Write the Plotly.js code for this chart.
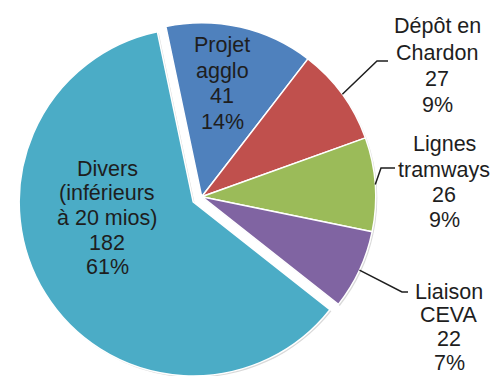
<!DOCTYPE html>
<html>
<head>
<meta charset="utf-8">
<script src="https://cdn.plot.ly/plotly-3.0.1.min.js"></script>
<style>
  html, body { margin: 0; padding: 0; background: #ffffff; overflow: hidden; }
  #wrap { width: 496px; height: 376px; overflow: hidden; position: relative; }
  #chart { width: 496px; height: 384px; }
</style>
</head>
<body>
<div id="wrap"><div id="chart"></div></div>
<script>
// ---- data ----
const categoryLines = [
  ['Projet', 'agglo'],
  ['Dépôt en', 'Chardon'],
  ['Lignes', 'tramways'],
  ['Liaison', 'CEVA'],
  ['Divers', '(inférieurs', 'à 20 mios)']
];
const categories = categoryLines.map(l => l.join(' '));
const values = [41, 27, 26, 22, 182];
const colors = ['#4F81BD', '#C0504D', '#9BBB59', '#8064A2', '#4BACC6'];
const pulls = [0, 0, 0, 0, 0.0575];

// ---- layout constants (pixels) ----
const W = 496, H = 384;
const CX = 201.7, CY = 196.7, R = 174;
const ROT = -11.9;
const maxPull = Math.max(...pulls);
const half = R * (1 + maxPull);
const px = x => x / W;
const py = y => 1 - y / H;

function dom(dx, dy) {
  return {
    x: [(CX + dx - half) / W, (CX + dx + half) / W],
    y: [1 - (CY + dy + half) / H, 1 - (CY + dy - half) / H]
  };
}

// label placement: [center x, first line y, line spacing]
const labelPos = [
  [222, 45, 25.7],
  [437, 26.5, 26],
  [444, 144.5, 25],
  [449, 291.5, 23.7],
  [107, 168.6, 24.7]
];
// leader lines (elbow, end) for outside labels; null = inside label
const leaders = [
  null,
  [[377, 61], [388, 61]],
  [[381, 168], [395, 168]],
  [[402, 292], [408, 292]],
  null
];

const total = values.reduce((a, b) => a + b, 0);
const pctText = values.map(v => Math.round(v / total * 100) + '%');

const annotations = [];
const shapes = [];
let cum = 0;
values.forEach((v, i) => {
  const [lx, ly, sp] = labelPos[i];
  const lines = categoryLines[i].concat([String(v), pctText[i]]);
  lines.forEach((t, k) => {
    annotations.push({
      x: px(lx), y: py(ly + k * sp), xref: 'paper', yref: 'paper',
      text: t, showarrow: false, xanchor: 'center', yanchor: 'middle',
      font: { family: 'Liberation Sans, Arial, sans-serif', size: 21.5, color: '#1e1e1e' }
    });
  });
  const mid = (ROT + (cum + v / 2) / total * 360) * Math.PI / 180;
  cum += v;
  if (leaders[i]) {
    const sx = CX + R * Math.sin(mid), sy = CY - R * Math.cos(mid);
    const [e, f] = leaders[i];
    shapes.push({
      type: 'path', xref: 'paper', yref: 'paper',
      path: `M ${px(sx)} ${py(sy)} L ${px(e[0])} ${py(e[1])} L ${px(f[0])} ${py(f[1])}`,
      line: { color: '#1e1e1e', width: 1.5 }
    });
  }
});

const shadow = {
  type: 'pie', values: values, labels: categories, sort: false,
  direction: 'clockwise', rotation: ROT, pull: pulls,
  marker: { colors: values.map(() => '#d9d9d9'), line: { color: '#d9d9d9', width: 0 } },
  textinfo: 'none', hoverinfo: 'skip', showlegend: false,
  domain: dom(1.5, 1.5)
};
const pie = {
  type: 'pie', values: values, labels: categories, sort: false,
  direction: 'clockwise', rotation: ROT, pull: pulls,
  marker: { colors: colors, line: { color: '#ffffff', width: 1.5 } },
  textinfo: 'none', hoverinfo: 'skip', showlegend: false,
  domain: dom(0, 0)
};

const layout = {
  width: W, height: H,
  margin: { l: 0, r: 0, t: 0, b: 0 },
  paper_bgcolor: '#ffffff',
  showlegend: false,
  annotations: annotations,
  shapes: shapes
};

Plotly.newPlot('chart', [shadow, pie], layout, { staticPlot: true, displayModeBar: false });
</script>
</body>
</html>
